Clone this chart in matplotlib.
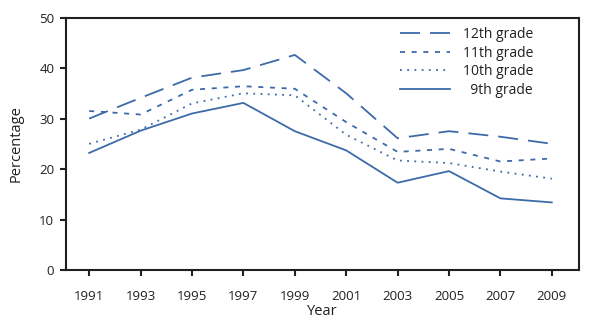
import matplotlib
matplotlib.use('Agg')
import matplotlib.pyplot as plt

plt.rcParams['font.family'] = ['Open Sans', 'DejaVu Sans']
plt.rcParams['lines.scale_dashes'] = False

years = [1991, 1993, 1995, 1997, 1999, 2001, 2003, 2005, 2007, 2009]
grade12 = [30.0, 34.1, 38.1, 39.6, 42.6, 35.0, 26.1, 27.5, 26.4, 25.0]
grade11 = [31.5, 30.8, 35.7, 36.4, 35.9, 29.3, 23.4, 24.0, 21.5, 22.1]
grade10 = [25.0, 27.8, 33.0, 35.0, 34.6, 26.8, 21.7, 21.2, 19.5, 18.1]
grade9 = [23.2, 27.6, 31.0, 33.1, 27.5, 23.7, 17.3, 19.6, 14.2, 13.4]

blue = '#3d6aa8'
dark = '#231f20'

fig = plt.figure(figsize=(5.9, 3.31), dpi=100)
ax = fig.add_axes([0.112, 0.184, 0.869, 0.763])

ax.plot(years, grade12, color=blue, lw=1.3, dashes=(14.4, 7.2), label='12th grade')
ax.plot(years, grade11, color=blue, lw=1.3, dashes=(3.6, 4.8), label='11th grade')
ax.plot(years, grade10, color=blue, lw=1.3, dashes=(1.3, 3.9), label='10th grade')
ax.plot(years, grade9, color=blue, lw=1.3, label='  9th grade')

ax.set_xlim(1990.1, 2010.05)
ax.set_ylim(0, 50)
ax.set_xticks(years)
ax.set_yticks([0, 10, 20, 30, 40, 50])

for s in ax.spines.values():
    s.set_linewidth(1.5)
    s.set_color(dark)

ax.tick_params(axis='x', length=4, width=1.5, color=dark, pad=10, labelsize=9.5, labelcolor=dark)
ax.tick_params(axis='y', length=4, width=1.5, color=dark, pad=4.5, labelsize=9.5, labelcolor=dark)

ax.set_xlabel('Year', fontsize=10.5, color=dark, labelpad=1)
ax.set_ylabel('Percentage', fontsize=10.5, color=dark, labelpad=11)

leg = ax.legend(loc='upper right', frameon=False, fontsize=10, handlelength=3.6,
                handletextpad=0.95, labelspacing=0.25, borderaxespad=0.3,
                bbox_to_anchor=(0.93, 1.0))
for t in leg.get_texts():
    t.set_color(dark)

fig.savefig('out.png', dpi=100)
